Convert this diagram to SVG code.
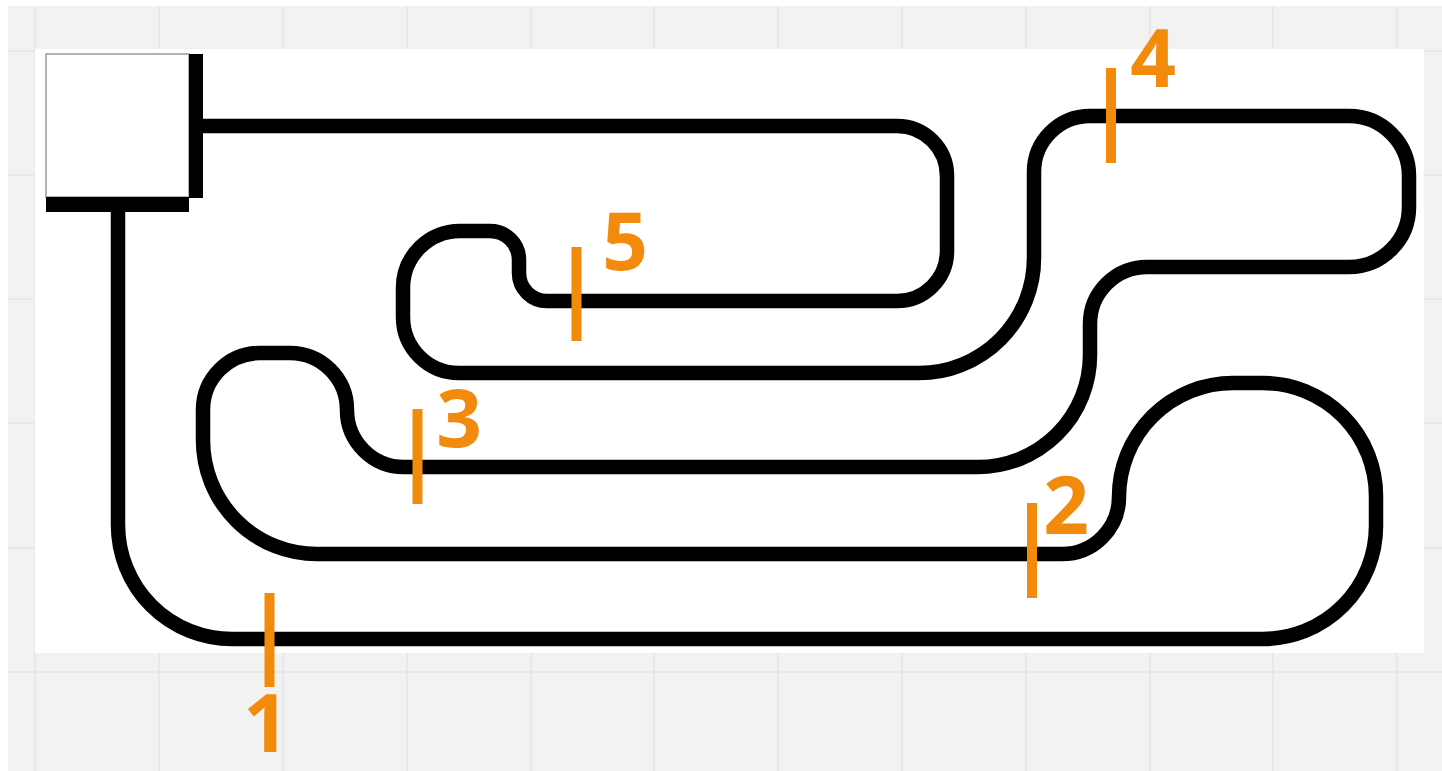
<svg xmlns="http://www.w3.org/2000/svg" width="1442" height="771" viewBox="0 0 1442 771">
<style>
.grid line{stroke:#e4e4e4;stroke-width:1.5}
.track{fill:none;stroke:#000;stroke-width:14.5}
.mark{stroke:#f28b0c;stroke-width:10}
.lbl{font-family:"Open Sans","Noto Sans",sans-serif;font-weight:700;font-size:80px;fill:#f28b0c;text-anchor:middle}
</style>
<rect x="0" y="0" width="1442" height="771" fill="#fff"/>
<rect x="8" y="6" width="1434" height="765" fill="#f2f2f2"/>
<g class="grid">
<line x1="35" y1="6" x2="35" y2="771"/><line x1="159" y1="6" x2="159" y2="771"/><line x1="283" y1="6" x2="283" y2="771"/><line x1="407" y1="6" x2="407" y2="771"/><line x1="531" y1="6" x2="531" y2="771"/><line x1="654" y1="6" x2="654" y2="771"/><line x1="778" y1="6" x2="778" y2="771"/><line x1="902" y1="6" x2="902" y2="771"/><line x1="1026" y1="6" x2="1026" y2="771"/><line x1="1150" y1="6" x2="1150" y2="771"/><line x1="1273" y1="6" x2="1273" y2="771"/><line x1="1397" y1="6" x2="1397" y2="771"/>
<line x1="8" y1="51" x2="1442" y2="51"/><line x1="8" y1="175" x2="1442" y2="175"/><line x1="8" y1="299" x2="1442" y2="299"/><line x1="8" y1="423" x2="1442" y2="423"/><line x1="8" y1="548" x2="1442" y2="548"/><line x1="8" y1="672" x2="1442" y2="672"/>
</g>
<rect x="35" y="49" width="1389" height="604" fill="#fff"/>
<g id="track">
<path class="track" d="M 203 126 H 897 A 50 50 0 0 1 947 176 V 251 A 50 50 0 0 1 897 301 H 547 A 28 28 0 0 1 519 273 V 260 A 29 29 0 0 0 490 231 H 460 A 57 57 0 0 0 403 288 V 317 A 56 56 0 0 0 459 373 H 919 A 115 115 0 0 0 1034 258 V 172 A 56 56 0 0 1 1090 116 H 1349 A 60 60 0 0 1 1409 176 V 207 A 60 60 0 0 1 1349 267 H 1147 A 57 57 0 0 0 1090 324 V 355 A 112 112 0 0 1 978 467 H 404 A 57 57 0 0 1 347 410 A 57 57 0 0 0 290 353 H 260 A 57 57 0 0 0 203 410 V 440 A 114 114 0 0 0 317 554 H 1062 A 57 57 0 0 0 1119 497 A 114 114 0 0 1 1233 383 H 1263 A 113 113 0 0 1 1376 496 V 526 A 113 113 0 0 1 1263 639 H 232 A 114 114 0 0 1 118 525 V 212"/>
</g>
<g id="station">
<rect x="46" y="54" width="143" height="143" fill="#fff" stroke="#9a9a9a" stroke-width="1.5"/>
<rect x="189" y="54" width="14" height="144" fill="#000"/>
<rect x="46" y="197" width="143" height="15" fill="#000"/>
</g>
<g id="marker1"><line class="mark" x1="269.5" y1="593" x2="269.5" y2="687"/><text class="lbl" x="266" y="752">1</text></g>
<g id="marker2"><line class="mark" x1="1032" y1="503" x2="1032" y2="598"/><text class="lbl" x="1066" y="534">2</text></g>
<g id="marker3"><line class="mark" x1="417.5" y1="409" x2="417.5" y2="504"/><text class="lbl" x="459" y="447">3</text></g>
<g id="marker4"><line class="mark" x1="1111" y1="68" x2="1111" y2="163"/><text class="lbl" x="1153" y="87">4</text></g>
<g id="marker5"><line class="mark" x1="576.5" y1="247" x2="576.5" y2="341"/><text class="lbl" x="625" y="270">5</text></g>
</svg>
